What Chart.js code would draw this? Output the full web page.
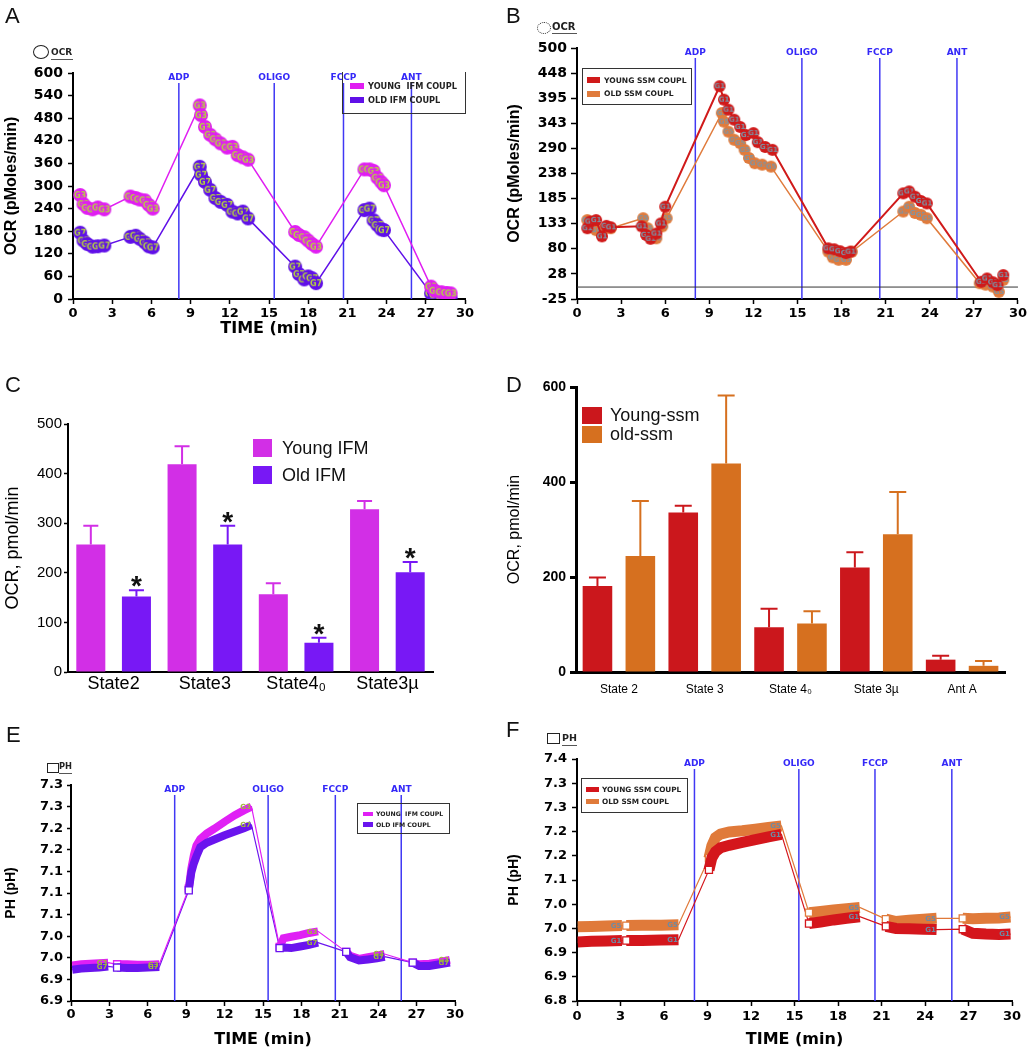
<!DOCTYPE html>
<html lang="en">
<head>
<meta charset="UTF-8">
<title>OCR and pH traces, young vs old IFM / SSM</title>
<script src="https://cdn.jsdelivr.net/npm/chart.js"></script>
<style>
  body { margin: 0; background: #fff; }
  #page { position: relative; width: 1029px; height: 1050px; overflow: hidden; font-family: "Liberation Sans", Arial, sans-serif; }
  #page canvas, #page div, #page span { position: absolute; }
  .letter { font-size: 22px; line-height: 22px; color: #111; }
  .box { border: 1px solid #333; box-sizing: border-box; }
  .lbl { font-family: "DejaVu Sans"; font-weight: bold; white-space: pre; color: #222; line-height: 10px; }
  .big { font-size: 18px; line-height: 20px; color: #111; white-space: pre; }
</style>
</head>
<body>
<div id="page">
  <canvas id="ocrIfm" width="515" height="342" style="left:0;top:0"></canvas>
  <canvas id="ocrSsm" width="526" height="342" style="left:503px;top:0"></canvas>
  <canvas id="rateIfm" width="515" height="360" style="left:0;top:340px"></canvas>
  <canvas id="rateSsm" width="526" height="360" style="left:503px;top:340px"></canvas>
  <canvas id="phIfm" width="515" height="350" style="left:0;top:700px"></canvas>
  <canvas id="phSsm" width="526" height="350" style="left:503px;top:700px"></canvas>

  <div class="letter" style="left:5px;top:5px">A</div>
  <div class="letter" style="left:506px;top:5px">B</div>
  <div class="letter" style="left:5px;top:374px">C</div>
  <div class="letter" style="left:506px;top:374px">D</div>
  <div class="letter" style="left:6px;top:724px">E</div>
  <div class="letter" style="left:506px;top:719px">F</div>

  <!-- little "OCR" / "PH" keys above the trace panels -->
  <div style="left:33px;top:45px;width:14px;height:12px;border:1px solid #222;border-radius:50%"></div>
  <span class="lbl" style="left:51px;top:47px;font-size:9px">OCR</span>
  <div style="left:51px;top:59px;width:22px;height:1px;background:#555"></div>
  <div style="left:537px;top:22px;width:12px;height:10px;border:1px dotted #222;border-radius:50%"></div>
  <span class="lbl" style="left:552px;top:22px;font-size:10px">OCR</span>
  <div style="left:552px;top:33px;width:25px;height:1px;background:#555"></div>
  <div style="left:47px;top:763px;width:10px;height:8px;border:1px solid #222"></div>
  <span class="lbl" style="left:59px;top:761px;font-size:8.3px">PH</span>
  <div style="left:59px;top:773px;width:13px;height:1px;background:#555"></div>
  <div style="left:547px;top:733px;width:11px;height:9px;border:1px solid #222"></div>
  <span class="lbl" style="left:562px;top:733px;font-size:9.5px">PH</span>
  <div style="left:562px;top:745px;width:15px;height:1px;background:#555"></div>

  <!-- legend A -->
  <div class="box" style="left:342px;top:72px;width:124px;height:42px;border-top:none"></div>
  <div style="left:350px;top:83px;width:14px;height:6px;background:#e01ef2"></div>
  <div style="left:350px;top:97px;width:14px;height:6px;background:#6010e8"></div>
  <span class="lbl" style="left:368px;top:81px;font-size:8.2px">YOUNG  IFM COUPL</span>
  <span class="lbl" style="left:368px;top:95px;font-size:8.2px">OLD IFM COUPL</span>
  <!-- legend B -->
  <div class="box" style="left:582px;top:68px;width:110px;height:37px;border-width:1.5px"></div>
  <div style="left:587px;top:77px;width:13px;height:6px;background:#d01a1a"></div>
  <div style="left:587px;top:91px;width:13px;height:6px;background:#e07b3c"></div>
  <span class="lbl" style="left:604px;top:76px;font-size:7.6px">YOUNG SSM COUPL</span>
  <span class="lbl" style="left:604px;top:89px;font-size:7.6px">OLD SSM COUPL</span>
  <!-- legend C -->
  <div style="left:253px;top:439px;width:19px;height:18px;background:#d22fe6"></div>
  <div style="left:253px;top:466px;width:19px;height:18px;background:#7818f5"></div>
  <span class="big" style="left:282px;top:438px">Young IFM</span>
  <span class="big" style="left:282px;top:465px">Old IFM</span>
  <!-- legend D -->
  <div style="left:582px;top:407px;width:20px;height:17px;background:#cb171c"></div>
  <div style="left:582px;top:426px;width:20px;height:17px;background:#d6701f"></div>
  <span class="big" style="left:610px;top:405px">Young-ssm</span>
  <span class="big" style="left:610px;top:424px">old-ssm</span>
  <!-- legend E -->
  <div class="box" style="left:357px;top:803px;width:93px;height:31px;border-width:1.5px"></div>
  <div style="left:363px;top:812px;width:10px;height:4px;background:#e020f5"></div>
  <div style="left:363px;top:822px;width:10px;height:5px;background:#6a14ee"></div>
  <span class="lbl" style="left:376px;top:809px;font-size:6.2px">YOUNG  IFM COUPL</span>
  <span class="lbl" style="left:376px;top:820px;font-size:6.2px">OLD IFM COUPL</span>
  <!-- legend F -->
  <div class="box" style="left:581px;top:778px;width:107px;height:35px;border-width:1.5px"></div>
  <div style="left:586px;top:787px;width:13px;height:5px;background:#d4161c"></div>
  <div style="left:586px;top:799px;width:13px;height:5px;background:#e07a3a"></div>
  <span class="lbl" style="left:602px;top:785px;font-size:7.3px">YOUNG SSM COUPL</span>
  <span class="lbl" style="left:602px;top:797px;font-size:7.3px">OLD SSM COUPL</span>
</div>

<script>
// ---------- data ----------
const timeTickLabels = ['0', '3', '6', '9', '12', '15', '18', '21', '24', '27', '30'];
const injectionNames = ['ADP', 'OLIGO', 'FCCP', 'ANT'];
const injectionTimesA = [8.1, 15.4, 20.7, 25.9];
const injectionTimesB = [8.05, 15.3, 20.6, 25.85];
const injectionTimesE = [8.1, 15.4, 20.65, 25.8];
const injectionTimesF = [8.1, 15.3, 20.55, 25.85];

// A: OCR, IFM (pmol/min)
const ocrIfmTicks = ['0', '60', '120', '180', '240', '300', '360', '420', '480', '540', '600'];
const ocrTimeIfm = [0.55, 0.8, 1.1, 1.5, 1.9, 2.4, 4.4, 4.8, 5.1, 5.5, 5.8, 6.1,
  9.7, 9.8, 10.1, 10.5, 10.9, 11.3, 11.8, 12.2, 12.6, 13.0, 13.4,
  17.0, 17.3, 17.7, 18.0, 18.3, 18.6, 22.3, 22.7, 23.0, 23.3, 23.6, 23.8,
  27.4, 27.7, 28.2, 28.6, 28.9];
const youngIfmOcr = [276, 252, 242, 238, 243, 238, 272, 268, 264, 262, 250, 240,
  514, 488, 457, 436, 424, 413, 402, 404, 382, 376, 370,
  178, 170, 164, 155, 146, 139, 344, 344, 340, 322, 310, 302,
  33, 22, 18, 16, 15];
const oldIfmOcr = [176, 155, 146, 139, 140, 142, 165, 168, 160, 150, 140, 137,
  351, 330, 311, 290, 268, 258, 250, 232, 227, 232, 214,
  86, 66, 52, 60, 55, 42, 236, 240, 209, 196, 185, 183,
  15, 10, 6, 4, 2];

// B: OCR, SSM
const ocrSsmTicks = ['-25', '28', '80', '133', '185', '238', '290', '343', '395', '448', '500'];
const youngSsmOcrTime = [0.7, 0.9, 1.3, 1.7, 2.0, 2.3, 4.4, 4.7, 5.0, 5.4, 5.7, 6.0,
  9.7, 10.0, 10.3, 10.7, 11.1, 11.5, 12.0, 12.3, 12.8, 13.3,
  17.1, 17.5, 17.9, 18.3, 18.6, 22.2, 22.6, 23.0, 23.4, 23.8,
  27.5, 27.9, 28.3, 28.6, 29.0];
const youngSsmOcr = [123, 137, 140, 106, 128, 125, 127, 109, 101, 112, 133, 168,
  420, 392, 371, 350, 335, 318, 322, 303, 293, 287,
  81, 79, 75, 71, 74, 196, 200, 189, 180, 175,
  11, 18, 10, 4, 25];
const oldSsmOcrTime = [0.7, 0.9, 1.3, 1.7, 2.0, 2.3, 4.5, 4.8, 5.1, 5.4, 5.8, 6.1,
  9.85, 10.0, 10.3, 10.7, 11.1, 11.4, 11.7, 12.1, 12.6, 13.2,
  17.1, 17.4, 17.8, 18.3, 18.7, 22.2, 22.6, 23.0, 23.4, 23.8,
  27.4, 27.8, 28.3, 28.7, 29.0];
const oldSsmOcr = [140, 125, 119, 119, 124, 123, 144, 123, 105, 102, 127, 144,
  364, 346, 325, 308, 301, 287, 270, 259, 256, 252,
  74, 62, 57, 57, 74, 158, 168, 155, 151, 144,
  8, 5, 1, -10, 15];

// C: mean OCR by state, IFM
const ifmStates = ['State2', 'State3', 'State4\u2080', 'State3\u00b5'];
const ifmRateTicks = ['0', '100', '200', '300', '400', '500'];
const youngIfmRate = [257, 419, 157, 328];
const youngIfmSem = [38, 36, 22, 17];
const oldIfmRate = [152, 257, 59, 201];
const oldIfmSem = [13, 38, 10, 21];
const oldIfmStars = [true, true, true, true];

// D: mean OCR by state, SSM
const ssmStates = ['State 2', 'State 3', 'State 4\u2080', 'State 3\u00b5', 'Ant A'];
const ssmRateTicks = ['0', '200', '400', '600'];
const youngSsmRate = [181, 336, 94, 220, 26];
const youngSsmSem = [18, 14, 39, 32, 8];
const oldSsmRate = [244, 439, 102, 290, 13];
const oldSsmSem = [116, 143, 26, 89, 10];

// E: pH, IFM (one array per measurement block)
const phIfmTicks = ['6.9', '6.9', '7.0', '7.0', '7.1', '7.1', '7.1', '7.2', '7.2', '7.3', '7.3'];
const phTimeIfm = [
  [0.1, 0.8, 1.5, 2.2, 2.9],
  [3.6, 4.4, 5.2, 6.0, 6.9],
  [9.2, 9.4, 9.6, 9.8, 10.1, 10.6, 11.2, 12.0, 12.8, 13.5, 14.1],
  [16.3, 16.6, 17.2, 17.9, 18.6, 19.3],
  [21.5, 21.8, 22.5, 23.2, 23.9, 24.5],
  [26.7, 27.2, 28.0, 28.8, 29.6]
];
const youngIfmPh = [
  [6.966, 6.968, 6.969, 6.970, 6.971],
  [6.968, 6.968, 6.967, 6.967, 6.968],
  [7.108, 7.145, 7.170, 7.188, 7.200, 7.210, 7.219, 7.232, 7.244, 7.253, 7.260],
  [7.000, 7.016, 7.019, 7.022, 7.026, 7.029],
  [6.991, 6.984, 6.978, 6.981, 6.984, 6.987],
  [6.971, 6.968, 6.969, 6.972, 6.976]
];
const oldIfmPh = [
  [6.958, 6.960, 6.961, 6.962, 6.964],
  [6.962, 6.961, 6.961, 6.962, 6.963],
  [7.105, 7.138, 7.155, 7.168, 7.185, 7.193, 7.199, 7.207, 7.214, 7.220, 7.226],
  [6.998, 6.999, 6.998, 7.001, 7.004, 7.008],
  [6.991, 6.981, 6.975, 6.977, 6.979, 6.982],
  [6.971, 6.965, 6.965, 6.968, 6.971]
];

// F: pH, SSM
const phSsmTicks = ['6.8', '6.9', '6.9', '7.0', '7.0', '7.1', '7.2', '7.2', '7.3', '7.3', '7.4'];
const phTimeSsm = [
  [0.05, 1.0, 2.0, 3.1],
  [3.4, 4.5, 5.8, 7.0],
  [9.1, 9.3, 9.55, 9.9, 10.5, 11.4, 12.3, 13.2, 14.1],
  [16.0, 16.8, 17.7, 18.6, 19.5],
  [21.3, 22.0, 22.9, 23.9, 24.8],
  [26.6, 27.3, 28.2, 29.1, 29.9]
];
const youngSsmPh = [
  [6.946, 6.948, 6.949, 6.950],
  [6.950, 6.950, 6.951, 6.952],
  [7.125, 7.155, 7.170, 7.180, 7.186, 7.193, 7.200, 7.207, 7.213],
  [6.992, 6.996, 7.001, 7.005, 7.009],
  [6.985, 6.980, 6.979, 6.978, 6.977],
  [6.978, 6.968, 6.966, 6.965, 6.966]
];
const oldSsmPh = [
  [6.984, 6.985, 6.986, 6.987],
  [6.987, 6.988, 6.988, 6.989],
  [7.154, 7.185, 7.205, 7.214, 7.219, 7.222, 7.226, 7.230, 7.234],
  [7.019, 7.022, 7.026, 7.029, 7.032],
  [7.003, 6.997, 7.000, 7.003, 7.005],
  [7.005, 7.004, 7.005, 7.006, 7.008]
];

// ---------- colours ----------
const youngIfmColor = '#e01ef2', oldIfmColor = '#6010e8';
const youngSsmColor = '#d01a1a', oldSsmColor = '#e07b3c';
const youngIfmBar = '#d22fe6', oldIfmBar = '#7818f5';
const youngSsmBar = '#cb171c', oldSsmBar = '#d6701f';
const youngIfmPhColor = '#e020f5', oldIfmPhColor = '#6a14ee';
const youngSsmPhColor = '#d4161c', oldSsmPhColor = '#e07a3a';

// ---------- helpers ----------
function pts(times, values) {
  return times.map((t, i) => ({ x: t, y: values[i] }));
}

// blocks joined with a null point in between so the thick band breaks
function blockPts(times, values) {
  const out = [];
  times.forEach((ts, b) => {
    if (b > 0) out.push({ x: ts[0] - 0.1, y: null });
    ts.forEach((t, i) => out.push({ x: t, y: values[b][i] }));
  });
  return out;
}

function blockStartRadius(data, r) {
  return data.map((d, i) => (i > 0 && data[i - 1].y === null ? r : 0));
}

// filled circle marker with the well-group tag written in it
function badge(fill, tag, ink, r, size) {
  const c = document.createElement('canvas');
  c.width = c.height = 2 * r + 2;
  const g = c.getContext('2d');
  g.fillStyle = fill;
  g.beginPath();
  g.arc(r + 1, r + 1, r, 0, Math.PI * 2);
  g.fill();
  g.fillStyle = ink;
  g.font = 'bold ' + size + 'px "DejaVu Sans"';
  g.textAlign = 'center';
  g.textBaseline = 'middle';
  g.fillText(tag, r + 1, r + 1.5);
  return c;
}

const dv = (size) => ({ family: 'DejaVu Sans', weight: 'bold', size });
const ls = (size, weight) => ({ family: 'Liberation Sans', weight: weight || 'normal', size });

function timeAxis(height, tickPad, withTitle, titlePadBottom) {
  return {
    type: 'linear', min: 0, max: 30,
    ticks: { stepSize: 3, autoSkip: false, maxRotation: 0, color: '#000', font: dv(13), padding: tickPad,
      callback: (v, i) => timeTickLabels[i] },
    grid: { drawOnChartArea: false, tickLength: 5, tickColor: '#000', tickWidth: 1.5 },
    border: { color: '#000', width: 2 },
    title: { display: withTitle, text: 'TIME (min)', color: '#000', font: dv(16),
      padding: { top: 0, bottom: titlePadBottom } },
    afterFit: (s) => { s.height = height; }
  };
}

function valueAxis(o) {
  return {
    type: 'linear', min: o.min, max: o.max,
    ticks: { stepSize: o.step, autoSkip: false, color: '#000', font: o.tickFont, padding: o.pad,
      callback: (v, i) => o.labels[i] },
    grid: { drawOnChartArea: false, tickLength: o.tickLen, tickColor: '#000', tickWidth: o.tickWidth || 1.5 },
    border: { color: '#000', width: o.border || 2 },
    title: { display: true, text: o.title, color: '#000', font: o.titleFont, padding: { top: o.titlePad, bottom: 0 } },
    afterFit: (s) => { s.width = o.width; }
  };
}

function categoryAxis(labelFont, pad, border) {
  return {
    type: 'category', offset: true,
    ticks: { color: '#000', font: labelFont, padding: pad, maxRotation: 0, autoSkip: false },
    grid: { drawOnChartArea: false, drawTicks: false },
    border: { color: '#000', width: border },
    afterFit: (s) => { s.height = 28; }
  };
}

function options(padding, x, y, plugins) {
  return {
    responsive: false,
    animation: false,
    layout: { padding },
    scales: { x, y },
    plugins: Object.assign({ legend: { display: false }, tooltip: { enabled: false } }, plugins || {})
  };
}

// ---------- plugins ----------
const injectionLines = {
  id: 'injectionLines',
  beforeDatasetsDraw(chart, args, opts) {
    if (!opts.times) return;
    const { ctx, chartArea } = chart;
    const x = chart.scales.x;
    ctx.save();
    opts.times.forEach((t, i) => {
      const px = x.getPixelForValue(t);
      ctx.strokeStyle = '#4038f4';
      ctx.lineWidth = 1.5;
      ctx.beginPath();
      ctx.moveTo(px, chartArea.top + 10);
      ctx.lineTo(px, chartArea.bottom);
      ctx.stroke();
      ctx.fillStyle = '#3428f8';
      ctx.font = 'bold 9px "DejaVu Sans"';
      ctx.textAlign = 'center';
      ctx.textBaseline = 'middle';
      ctx.fillText(opts.names[i], px, chartArea.top + 5);
    });
    ctx.restore();
  }
};

const zeroLine = {
  id: 'zeroLine',
  beforeDatasetsDraw(chart, args, opts) {
    if (!opts.show) return;
    const { ctx, chartArea } = chart;
    const py = chart.scales.y.getPixelForValue(0);
    ctx.save();
    ctx.strokeStyle = '#333';
    ctx.lineWidth = 1;
    ctx.beginPath();
    ctx.moveTo(chartArea.left, py);
    ctx.lineTo(chartArea.right, py);
    ctx.stroke();
    ctx.restore();
  }
};

// tag written at the end of each measurement block (pH traces)
const blockTags = {
  id: 'blockTags',
  afterDatasetsDraw(chart) {
    const { ctx } = chart;
    ctx.save();
    chart.data.datasets.forEach((ds, i) => {
      if (!ds.endTag) return;
      const meta = chart.getDatasetMeta(i);
      ctx.fillStyle = ds.endTagColor;
      ctx.font = 'bold 7px "DejaVu Sans"';
      ctx.textAlign = 'center';
      ctx.textBaseline = 'middle';
      ds.data.forEach((d, j) => {
        const next = ds.data[j + 1];
        if (d.y === null || (next && next.y !== null)) return;
        const p = meta.data[j];
        ctx.fillText(ds.endTag, p.x - 6, p.y + 0.5);
      });
    });
    ctx.restore();
  }
};

const errorBars = {
  id: 'errorBars',
  afterDatasetsDraw(chart, args, opts) {
    const { ctx } = chart;
    const y = chart.scales.y;
    ctx.save();
    chart.data.datasets.forEach((ds, i) => {
      if (!ds.errors) return;
      const meta = chart.getDatasetMeta(i);
      meta.data.forEach((bar, j) => {
        const top = y.getPixelForValue(ds.data[j] + ds.errors[j]);
        ctx.strokeStyle = ds.backgroundColor;
        ctx.lineWidth = 2;
        ctx.beginPath();
        ctx.moveTo(bar.x, bar.y);
        ctx.lineTo(bar.x, top);
        ctx.moveTo(bar.x - opts.cap, top);
        ctx.lineTo(bar.x + opts.cap, top);
        ctx.stroke();
        if (ds.stars && ds.stars[j]) {
          ctx.fillStyle = '#111';
          ctx.font = 'bold 28px "Liberation Sans"';
          ctx.textAlign = 'center';
          ctx.textBaseline = 'alphabetic';
          ctx.fillText('*', bar.x, top + 5);
        }
      });
    });
    ctx.restore();
  }
};

Chart.register(injectionLines, zeroLine, blockTags, errorBars);

// ---------- A: OCR IFM ----------
new Chart(document.getElementById('ocrIfm'), {
  type: 'line',
  data: {
    datasets: [
      { data: pts(ocrTimeIfm, youngIfmOcr), borderColor: youngIfmColor, borderWidth: 1.5,
        pointStyle: badge(youngIfmColor, 'G3', '#b5d33c', 7, 8), pointRadius: 7, order: 0 },
      { data: pts(ocrTimeIfm, oldIfmOcr), borderColor: oldIfmColor, borderWidth: 1.5,
        pointStyle: badge(oldIfmColor, 'G7', '#b5d33c', 7, 8), pointRadius: 7, order: 1 }
    ]
  },
  options: options({ top: 73, right: 50, left: 0, bottom: 0 },
    timeAxis(43, 2, true, 4),
    valueAxis({ min: 0, max: 600, step: 60, labels: ocrIfmTicks, tickFont: dv(14), pad: 5, tickLen: 5,
      width: 73, title: 'OCR (pMoles/min)', titleFont: ls(16, 'bold'), titlePad: 2 }),
    { injectionLines: { times: injectionTimesA, names: injectionNames } })
});

// ---------- B: OCR SSM ----------
new Chart(document.getElementById('ocrSsm'), {
  type: 'line',
  data: {
    datasets: [
      { data: pts(youngSsmOcrTime, youngSsmOcr), borderColor: youngSsmColor, borderWidth: 2,
        pointStyle: badge(youngSsmColor, 'G1', '#7b95a8', 6, 7), pointRadius: 6, order: 0 },
      { data: pts(oldSsmOcrTime, oldSsmOcr), borderColor: oldSsmColor, borderWidth: 1.5,
        pointStyle: badge(oldSsmColor, 'G5', '#7b95a8', 6, 7), pointRadius: 6, order: 1 }
    ]
  },
  options: options({ top: 48, right: 11, left: 0, bottom: 0 },
    timeAxis(43, 2, false, 0),
    valueAxis({ min: -25, max: 500, step: 52.5, labels: ocrSsmTicks, tickFont: dv(14), pad: 4, tickLen: 6,
      width: 74, title: 'OCR (pMoles/min)', titleFont: ls(16, 'bold'), titlePad: 2 }),
    { injectionLines: { times: injectionTimesB, names: injectionNames }, zeroLine: { show: true } })
});

// ---------- C: rates IFM ----------
new Chart(document.getElementById('rateIfm'), {
  type: 'bar',
  data: {
    labels: ifmStates,
    datasets: [
      { data: youngIfmRate, errors: youngIfmSem, backgroundColor: youngIfmBar,
        barPercentage: 0.636, categoryPercentage: 1 },
      { data: oldIfmRate, errors: oldIfmSem, stars: oldIfmStars, backgroundColor: oldIfmBar,
        barPercentage: 0.636, categoryPercentage: 1 }
    ]
  },
  options: options({ top: 84, right: 82, left: 0, bottom: 0 },
    categoryAxis(ls(18), 1, 2),
    valueAxis({ min: 0, max: 500, step: 100, labels: ifmRateTicks, tickFont: ls(15), pad: 2, tickLen: 4,
      width: 68, title: 'OCR, pmol/min', titleFont: ls(18), titlePad: 2 }),
    { errorBars: { cap: 7.5 } })
});

// ---------- D: rates SSM ----------
new Chart(document.getElementById('rateSsm'), {
  type: 'bar',
  data: {
    labels: ssmStates,
    datasets: [
      { data: youngSsmRate, errors: youngSsmSem, backgroundColor: youngSsmBar,
        barPercentage: 0.69, categoryPercentage: 1 },
      { data: oldSsmRate, errors: oldSsmSem, backgroundColor: oldSsmBar,
        barPercentage: 0.69, categoryPercentage: 1 }
    ]
  },
  options: options({ top: 47, right: 24, left: 0, bottom: 0 },
    categoryAxis(ls(12), 10, 3),
    valueAxis({ min: 0, max: 600, step: 200, labels: ssmRateTicks, tickFont: ls(14, 'bold'), pad: 4, tickLen: 6,
      tickWidth: 3, border: 3, width: 73, title: 'OCR, pmol/min', titleFont: ls(16), titlePad: 2 }),
    { errorBars: { cap: 8.5 } })
});

// ---------- E / F: pH traces ----------
function phChart(id, times, young, old, colors, tags, topLayer, pad, y, injections) {
  const yData = blockPts(times, young);
  const oData = blockPts(times, old);
  const band = (data, color, tag, order) => ({
    data, borderColor: color, borderWidth: pad.band, borderCapStyle: 'butt', spanGaps: false,
    pointStyle: 'rect', pointRadius: blockStartRadius(data, 5), pointBackgroundColor: '#fff',
    pointBorderColor: color, pointBorderWidth: 1.3, endTag: tag, endTagColor: tags.ink, order
  });
  const thin = (data, color, order) => ({
    data: data.filter((d) => d.y !== null), borderColor: color, borderWidth: 1.2, pointRadius: 0, order
  });
  const youngOnTop = topLayer === 'young';
  new Chart(document.getElementById(id), {
    type: 'line',
    data: {
      datasets: [
        band(yData, colors[0], tags.young, youngOnTop ? 0 : 1),
        band(oData, colors[1], tags.old, youngOnTop ? 1 : 0),
        thin(yData, colors[0], 2),
        thin(oData, colors[1], 3)
      ]
    },
    options: options(pad.layout, timeAxis(49, pad.xTick, true, 1), y,
      { injectionLines: { times: injections, names: injectionNames } })
  });
}

phChart('phIfm', phTimeIfm, youngIfmPh, oldIfmPh, [youngIfmPhColor, oldIfmPhColor],
  { young: 'G3', old: 'G7', ink: '#9fb83a' }, 'old',
  { band: 8, xTick: 1, layout: { top: 85, right: 60, left: 0, bottom: 0 } },
  valueAxis({ min: 6.9, max: 7.3, step: 0.04, labels: phIfmTicks, tickFont: dv(13), pad: 4, tickLen: 4,
    width: 71, title: 'PH (pH)', titleFont: ls(14, 'bold'), titlePad: 3 }),
  injectionTimesE);

phChart('phSsm', phTimeSsm, youngSsmPh, oldSsmPh, [youngSsmPhColor, oldSsmPhColor],
  { young: 'G1', old: 'G5', ink: '#6d8aa4' }, 'young',
  { band: 11, xTick: 3, layout: { top: 59, right: 17, left: 0, bottom: 0 } },
  valueAxis({ min: 6.8, max: 7.4, step: 0.06, labels: phSsmTicks, tickFont: dv(13), pad: 5, tickLen: 5,
    width: 74, title: 'PH (pH)', titleFont: ls(14, 'bold'), titlePad: 3 }),
  injectionTimesF);
</script>
</body>
</html>
